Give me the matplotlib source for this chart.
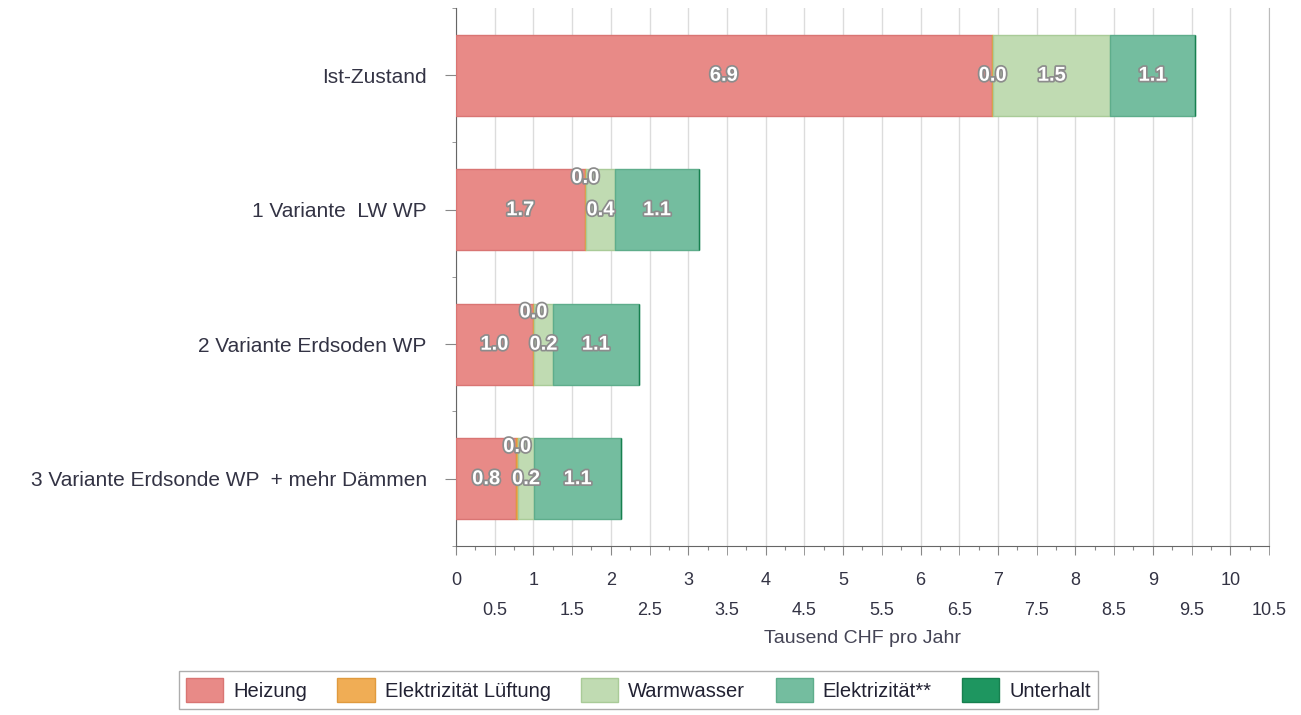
import matplotlib
matplotlib.use("Agg")
import matplotlib.pyplot as plt
import matplotlib.patheffects as pe
from matplotlib.patches import Patch
import numpy as np

plt.rcParams['font.family'] = ['Liberation Sans', 'DejaVu Sans']

# Jahreskosten in Tausend CHF
varianten = ["Ist-Zustand", "1 Variante  LW WP", "2 Variante Erdsoden WP",
             "3 Variante Erdsonde WP  + mehr Dämmen"]
kategorien = ["Heizung", "Elektrizität Lüftung", "Warmwasser", "Elektrizität**", "Unterhalt"]
heizung = [6.92, 1.66, 0.99, 0.78]
lueftung = [0.02, 0.02, 0.02, 0.02]
warmwasser = [1.51, 0.37, 0.24, 0.21]
elektrizitaet = [1.09, 1.09, 1.11, 1.12]
unterhalt = [0.0, 0.0, 0.0, 0.0]

farben = ["#E88A87", "#F0AD55", "#C0DBB2", "#74BD9F", "#1E9660"]
kanten = ["#D97573", "#E09A3E", "#A9CB98", "#5EAD8B", "#17804F"]

serien = [heizung, lueftung, warmwasser, elektrizitaet, unterhalt]

fig = plt.figure(figsize=(13.01, 7.15), dpi=100)
ax = fig.add_axes([0.3505, 0.2364, 0.6249, 0.7524])

y = np.arange(len(varianten))
links = np.zeros(len(varianten))
bar_h = 0.6
stroke = [pe.withStroke(linewidth=2.5, foreground="#8c8c8c")]

for i, werte in enumerate(serien):
    werte = np.array(werte)
    ax.barh(y, werte, left=links, height=bar_h, color=farben[i],
            edgecolor=kanten[i], linewidth=1, zorder=3)
    for j, v in enumerate(werte):
        if v == 0:
            continue
        ty = y[j]
        # sehr kleine Segmente neben schmalem Warmwasser-Block nach oben schieben
        if v < 0.1 and warmwasser[j] < 1:
            ty = y[j] - 0.24
        ax.text(links[j] + v / 2, ty, f"{v:.1f}", ha="center", va="center",
                color="white", fontsize=14.5, fontweight="bold",
                path_effects=stroke, zorder=5)
    links += werte

ax.set_xlim(0, 10.5)
ax.set_ylim(3.5, -0.5)

ax.set_yticks(y)
ax.set_yticklabels(varianten, fontsize=15, color="#333344")
ax.set_yticks(np.arange(-0.5, 3.6, 1), minor=True)
ax.tick_params(axis="y", which="major", length=8, pad=13, color="#888888")
ax.tick_params(axis="y", which="minor", length=3, color="#888888")

# Ganze Zahlen oben, halbe Werte in zweiter Zeile
ax.set_xticks(np.arange(0, 10.1, 1))
ax.set_xticklabels([f"{v:g}" for v in np.arange(0, 10.1, 1)])
ax.set_xticks(np.arange(0.5, 10.6, 1), minor=True)
ax.set_xticklabels([f"{v:g}" for v in np.arange(0.5, 10.6, 1)], minor=True)
ax.tick_params(axis="x", which="major", length=6.5, pad=12, labelsize=13,
               labelcolor="#333344", color="#888888")
ax.tick_params(axis="x", which="minor", length=6.5, pad=34, labelsize=13,
               labelcolor="#333344", color="#888888")

viertel = ax.secondary_xaxis("bottom")
viertel.set_xticks(np.arange(0.25, 10.5, 0.5))
viertel.tick_params(length=3, labelbottom=False, color="#888888")
viertel.spines["bottom"].set_visible(False)

ax.set_xlabel("Tausend CHF pro Jahr", fontsize=14, color="#444455", labelpad=8)

ax.grid(axis="x", which="both", color="#dcdcdc", linewidth=1, zorder=0)
ax.set_axisbelow(True)

ax.spines["top"].set_visible(False)
ax.spines["right"].set_color("#bbbbbb")
ax.spines["left"].set_color("#666666")
ax.spines["bottom"].set_color("#666666")

handles = [Patch(facecolor=f, edgecolor=k, label=n) for f, k, n in zip(farben, kanten, kategorien)]
leg = fig.legend(handles=handles, loc="upper center", bbox_to_anchor=(0.4908, 0.0615),
                 ncol=5, fontsize=14.5, frameon=True, fancybox=False,
                 edgecolor="#999999", handlelength=1.85, handleheight=1.45,
                 columnspacing=1.5, handletextpad=0.5, borderpad=0.35,
                 borderaxespad=0)
for t in leg.get_texts():
    t.set_color("#222233")

fig.savefig("out.png", dpi=100)
